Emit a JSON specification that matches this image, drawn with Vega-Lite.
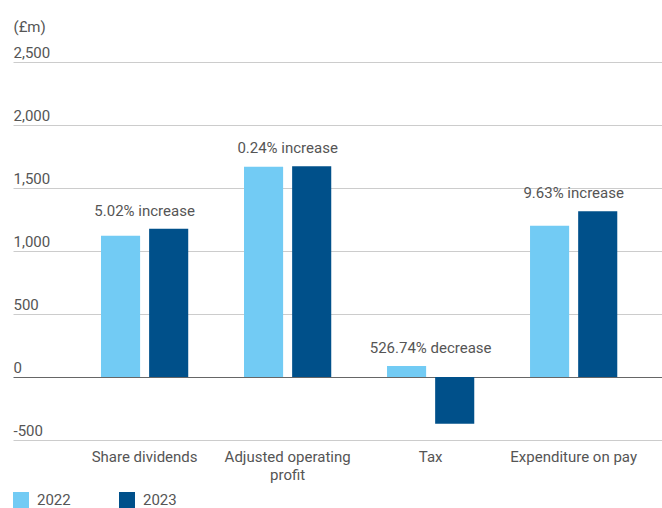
{
  "$schema": "https://vega.github.io/schema/vega-lite/v6.json",
  "width": 649,
  "height": 378,
  "autosize": {"type": "none"},
  "padding": {"left": 13, "top": 62, "right": 0, "bottom": 68},
  "config": {
    "view": {"stroke": null},
    "font": "Roboto",
    "legend": {"padding": 0}
  },
  "data": {
    "values": [
      {"category": "Share dividends", "year": "2022", "value": 1121, "change": "5.02% increase"},
      {"category": "Share dividends", "year": "2023", "value": 1177, "change": "5.02% increase"},
      {"category": "Adjusted operating profit", "year": "2022", "value": 1669, "change": "0.24% increase"},
      {"category": "Adjusted operating profit", "year": "2023", "value": 1673, "change": "0.24% increase"},
      {"category": "Tax", "year": "2022", "value": 87, "change": "526.74% decrease"},
      {"category": "Tax", "year": "2023", "value": -371, "change": "526.74% decrease"},
      {"category": "Expenditure on pay", "year": "2022", "value": 1201, "change": "9.63% increase"},
      {"category": "Expenditure on pay", "year": "2023", "value": 1316, "change": "9.63% increase"}
    ]
  },
  "encoding": {
    "x": {
      "field": "category",
      "type": "nominal",
      "sort": ["Share dividends", "Adjusted operating profit", "Tax", "Expenditure on pay"],
      "scale": {"paddingInner": 0.39, "paddingOuter": 0.464, "align": 0.663},
      "axis": {
        "title": null,
        "domain": false,
        "ticks": false,
        "labelAngle": 0,
        "labelPadding": 9,
        "labelFontSize": 15,
        "labelColor": "#555555",
        "labelLineHeight": 18,
        "labelBaseline": "top",
        "labelLimit": 0,
        "labelExpr": "datum.value == 'Adjusted operating profit' ? ['Adjusted operating', 'profit'] : datum.value"
      }
    }
  },
  "layer": [
    {
      "mark": {"type": "bar"},
      "encoding": {
        "xOffset": {"field": "year", "type": "nominal", "scale": {"paddingInner": 0.1875, "paddingOuter": 0}},
        "y": {
          "field": "value",
          "type": "quantitative",
          "scale": {"domain": [-500, 2500], "nice": false, "zero": false},
          "axis": {
            "title": "(£m)",
            "titleAngle": 0,
            "titleAlign": "left",
            "titleBaseline": "top",
            "titleX": 0,
            "titleY": -43,
            "titleFontWeight": "normal",
            "titleFontSize": 15,
            "titleColor": "#555555",
            "values": [-500, 0, 500, 1000, 1500, 2000, 2500],
            "labelExpr": "datum.value < 0 ? '-' + format(-datum.value, ',') : format(datum.value, ',')",
            "domain": false,
            "ticks": false,
            "labelAlign": "left",
            "labelBaseline": "alphabetic",
            "labelPadding": 0,
            "labelOffset": -5,
            "labelFlush": false,
            "labelFontSize": 15,
            "labelColor": "#555555",
            "grid": true,
            "gridColor": {"condition": {"test": "datum.value === 0", "value": "#666666"}, "value": "#cccccc"}
          }
        },
        "color": {
          "field": "year",
          "type": "nominal",
          "scale": {"domain": ["2022", "2023"], "range": ["#72CBF4", "#00508A"]},
          "legend": {
            "orient": "none",
            "legendX": 0,
            "legendY": 430,
            "direction": "horizontal",
            "title": null,
            "symbolType": "square",
            "symbolSize": 256,
            "symbolStrokeWidth": 0,
            "symbolOpacity": 1,
            "labelFontSize": 15,
            "labelColor": "#555555",
            "labelOffset": 8,
            "columnPadding": 48
          }
        }
      }
    },
    {
      "transform": [
        {"aggregate": [{"op": "max", "field": "value", "as": "top"}], "groupby": ["category", "change"]}
      ],
      "mark": {"type": "text", "dy": -18, "baseline": "middle", "fontSize": 15, "color": "#555555"},
      "encoding": {
        "y": {"field": "top", "type": "quantitative"},
        "text": {"field": "change"}
      }
    }
  ]
}
